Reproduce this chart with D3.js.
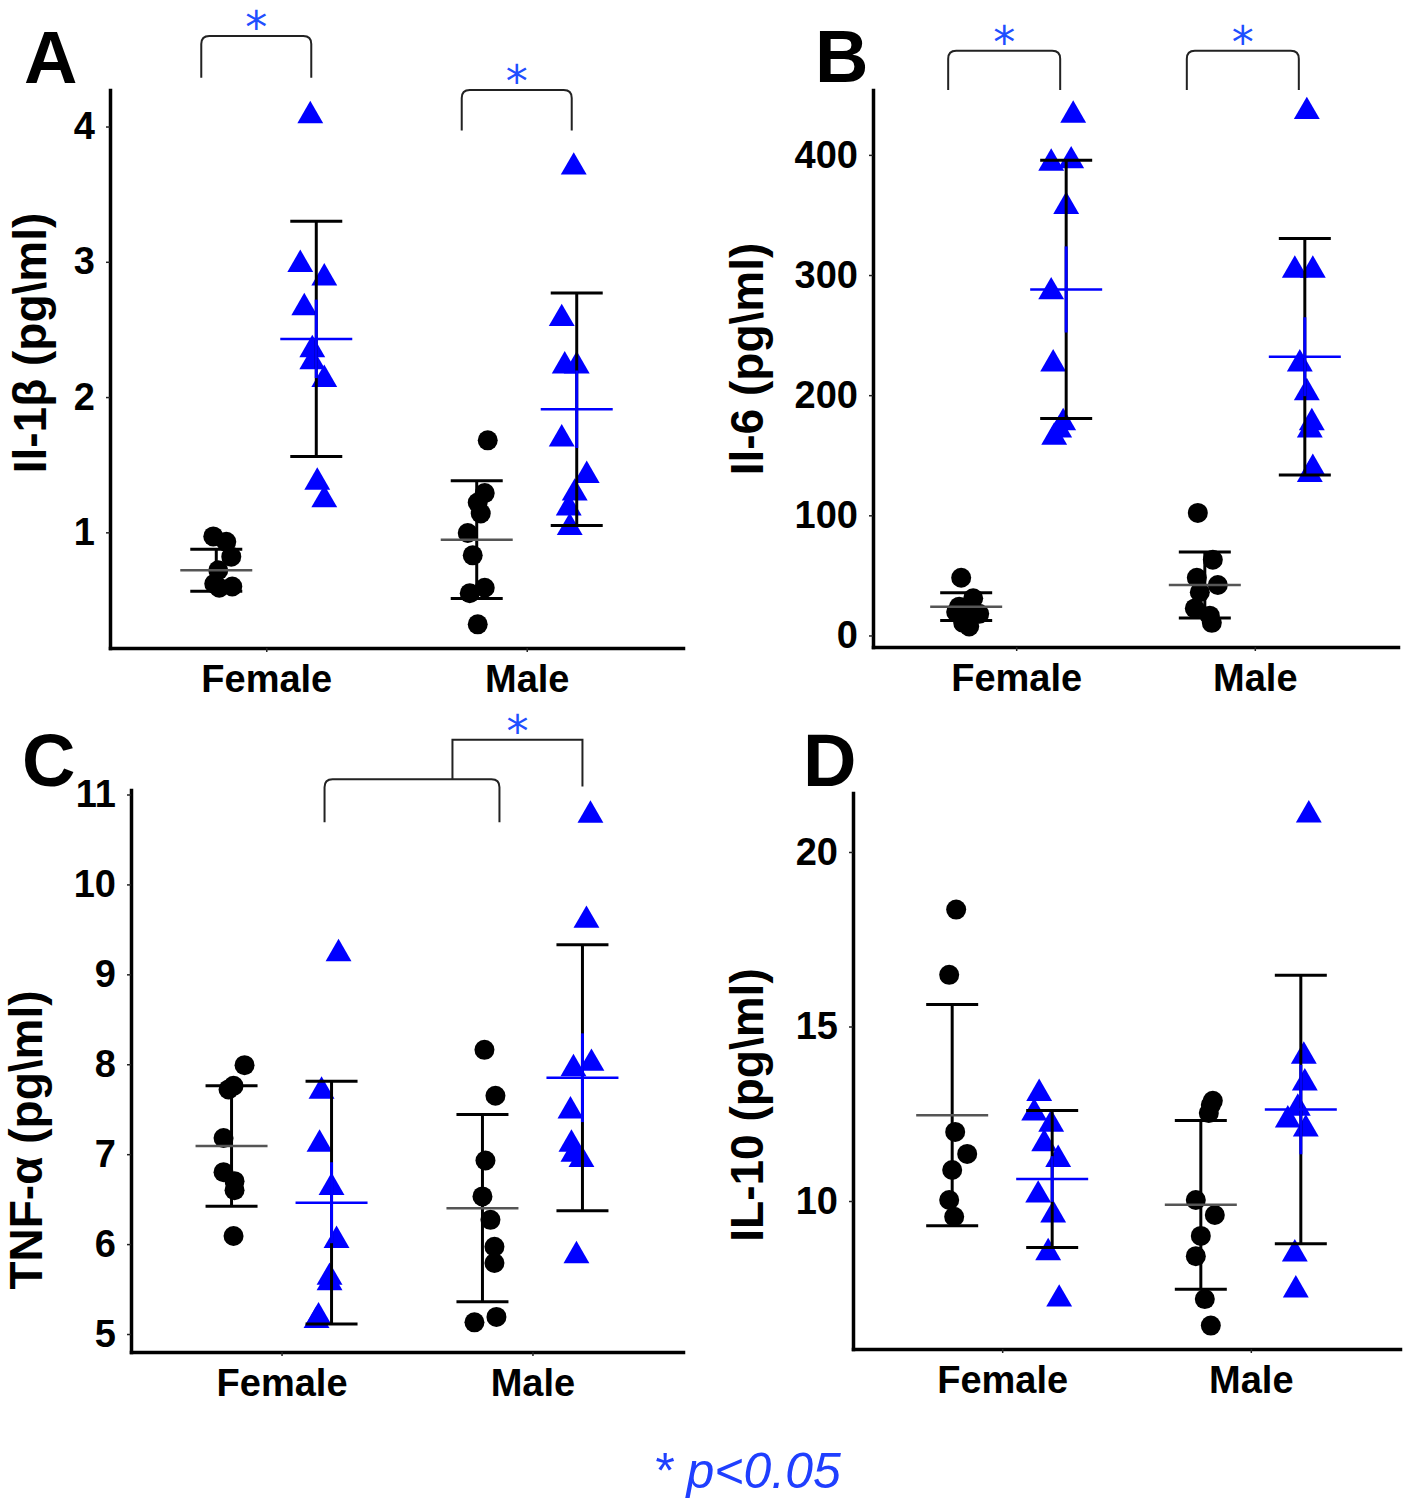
<!DOCTYPE html>
<html><head><meta charset="utf-8">
<script src="https://cdn.jsdelivr.net/npm/d3@7"></script>
<style>body{margin:0;background:#fff}</style>
</head><body>
<svg id="c" width="1405" height="1500"></svg>
<script>
// ---------- data ----------
const categories = ["Female", "Male"];
const groups = ["Control", "Treatment"];

// Panel A: Il-1β
const il1b_female_ctrl = [0.97, 0.93, 0.82, 0.72, 0.62, 0.60, 0.59];
const il1b_female_trt  = [4.08, 2.98, 2.88, 2.66, 2.35, 2.26, 2.13, 1.37, 1.24];
const il1b_male_ctrl   = [1.68, 1.29, 1.22, 1.14, 0.995, 0.83, 0.55, 0.59, 0.32];
const il1b_male_trt    = [3.70, 2.58, 2.23, 2.23, 1.69, 1.42, 1.29, 1.18, 1.035];
const il1b_mean = [0.72, 2.43, 0.946, 1.91];
const il1b_sd   = [0.155, 0.87, 0.435, 0.86];
const il1b_ticks = [1, 2, 3, 4];

// Panel B: Il-6
const il6_female_ctrl = [48, 31, 24, 19.5, 18, 16.5, 10.5, 7.5];
const il6_female_trt  = [433, 393, 395, 357, 286, 226, 177, 171, 165];
const il6_male_ctrl   = [102, 63, 48, 42, 36, 22.5, 16.5, 10.5];
const il6_male_trt    = [436, 304, 304, 226, 202, 177, 171, 139, 134];
const il6_mean = [24, 288, 42, 232];
const il6_sd   = [11.5, 107.5, 27.5, 98.5];
const il6_ticks = [0, 100, 200, 300, 400];

// Panel C: TNF-α
const tnf_female_ctrl = [7.99, 7.72, 7.76, 7.18, 6.8, 6.7, 6.6, 6.09];
const tnf_female_trt  = [9.23, 7.70, 7.11, 6.63, 6.04, 5.63, 5.57, 5.19, 5.15];
const tnf_male_ctrl   = [8.16, 7.65, 6.93, 6.53, 6.27, 5.97, 5.79, 5.13, 5.19];
const tnf_male_trt    = [10.77, 9.60, 7.95, 8.01, 7.48, 7.11, 7.0, 6.94, 5.87];
const tnf_mean = [7.09, 6.46, 6.40, 7.85];
const tnf_sd   = [0.67, 1.35, 1.04, 1.48];
const tnf_ticks = [5, 6, 7, 8, 9, 10, 11];

// Panel D: IL-10
const il10_female_ctrl = [18.35, 16.48, 11.98, 11.35, 10.89, 10.03, 9.55];
const il10_female_trt  = [13.08, 12.52, 12.2, 11.64, 11.19, 10.17, 9.6, 8.52, 7.19];
const il10_male_ctrl   = [12.87, 12.75, 12.52, 10.03, 9.6, 9.0, 8.42, 7.19, 6.43];
const il10_male_trt    = [21.06, 14.15, 13.38, 12.66, 12.32, 12.06, 8.48, 7.45];
const il10_mean = [12.46, 10.63, 9.89, 12.62];
const il10_sd   = [3.17, 1.965, 2.42, 3.845];
const il10_ticks = [10, 15, 20];

// horizontal jitter of the points
const il1b_jit = [[-3,10,15,2,-2,16,3],[-6,-16,8,-12,-4,-4,8,1,8],[11,8,1,4,-9,-4,-7,8,1],[-3,-15,-12,0,-15,10,-2,-8,-7]];
const il6_jit  = [[-5,7,-7,-10,13,2,-3,3],[7,-15,5,0,-15,-13,-3,-7,-12],[-7,8,-8,13,-5,-10,5,7],[2,-10,8,-5,2,7,5,8,5]];
const tnf_jit  = [[13,-3,2,-8,-8,3,3,2],[7,-10,-12,0,5,-2,-2,-13,-15],[2,13,3,0,8,12,12,-8,14],[8,4,-9,9,-12,-11,-9,-1,-6]];
const il10_jit = [[4,-3,3,15,0,-3,2],[-13,-18,-1,-8,6,-14,1,-4,7],[12,10,8,-5,14,0,-5,4,10],[8,3,4,-3,-13,5,-6,-5]];

// ---------- drawing ----------
const svg = d3.select("#c");
const FONT = "'Liberation Sans', Arial, Helvetica, sans-serif";
const BLUE = "#0000ff";
const STAR = "#1f4fff";

function panel(cfg) {
  const g = svg.append("g");
  const x = d3.scalePoint().domain(categories).range([cfg.left, cfg.right]).padding(0.6);
  const dodge = d3.scalePoint().domain(groups).range([-50, 50]);
  const jit = d3.scaleLinear().domain([-1, 1]).range([-1, 1]);
  const y = d3.scaleLinear().domain(cfg.domain).range([cfg.bottom, cfg.top]);

  const ya = g.append("g").attr("transform", `translate(${cfg.left},0)`)
    .call(d3.axisLeft(y).tickValues(cfg.ticks).tickFormat(d3.format("d")).tickSize(4).tickSizeOuter(0).tickPadding(11));
  const xa = g.append("g").attr("transform", `translate(0,${cfg.bottom})`)
    .call(d3.axisBottom(x).tickSize(4).tickSizeOuter(0).tickPadding(13));
  [ya, xa].forEach(a => {
    a.select(".domain").attr("stroke", "#000").attr("stroke-width", 3.5).attr("stroke-linecap", "square");
    a.selectAll(".tick line").attr("stroke", "#222").attr("stroke-width", 1.5);
    a.selectAll(".tick text").attr("fill", "#000").attr("font-family", FONT)
      .attr("font-weight", "bold").attr("font-size", 38);
  });

  g.append("text").attr("transform", `translate(${cfg.labelX},${cfg.labelY}) rotate(-90)`)
    .attr("text-anchor", "middle").attr("font-family", FONT).attr("font-weight", "bold")
    .attr("font-size", 46).attr("fill", "#000").text(cfg.label);
  g.append("text").attr("x", cfg.letterX).attr("y", cfg.letterY)
    .attr("font-family", FONT).attr("font-weight", "bold").attr("font-size", 74)
    .attr("fill", "#000").text(cfg.letter);

  const sets = [
    {cat: "Female", grp: "Control", vals: cfg.series[0], j: cfg.jit[0], i: 0},
    {cat: "Female", grp: "Treatment", vals: cfg.series[1], j: cfg.jit[1], i: 1},
    {cat: "Male", grp: "Control", vals: cfg.series[2], j: cfg.jit[2], i: 2},
    {cat: "Male", grp: "Treatment", vals: cfg.series[3], j: cfg.jit[3], i: 3},
  ];
  const gx = s => x(s.cat) + dodge(s.grp);

  sets.forEach(s => {
    const cx = gx(s);
    if (s.grp === "Control") {
      g.append("g").selectAll("circle").data(s.vals).join("circle")
        .attr("cx", (d, k) => cx + jit(s.j[k])).attr("cy", d => y(d))
        .attr("r", 10).attr("fill", "#000");
    } else {
      g.append("g").selectAll("path").data(s.vals).join("path")
        .attr("d", d3.symbol(d3.symbolTriangle, 290))
        .attr("transform", (d, k) => `translate(${cx + jit(s.j[k])},${y(d)})`)
        .attr("fill", BLUE);
    }
  });

  sets.forEach(s => {
    const cx = gx(s);
    const m = cfg.mean[s.i], sd = cfg.sd[s.i];
    const eb = g.append("g");
    eb.append("line").attr("x1", cx).attr("x2", cx).attr("y1", y(m - sd)).attr("y2", y(m + sd))
      .attr("stroke", "#000").attr("stroke-width", 3);
    [m - sd, m + sd].forEach(v => eb.append("line").attr("x1", cx - 26).attr("x2", cx + 26)
      .attr("y1", y(v)).attr("y2", y(v)).attr("stroke", "#000").attr("stroke-width", 3));
    const col = s.grp === "Control" ? "#555" : BLUE;
    if (s.grp === "Treatment") {
      eb.append("line").attr("x1", cx).attr("x2", cx).attr("y1", y(m - sd / 3)).attr("y2", y(m + sd / 3))
        .attr("stroke", BLUE).attr("stroke-width", 3);
    }
    eb.append("line").attr("x1", cx - 36).attr("x2", cx + 36).attr("y1", y(m)).attr("y2", y(m))
      .attr("stroke", col).attr("stroke-width", 2.5);
  });

  return {g, x, dodge, y};
}

function star(g, cx, yTop) {
  g.append("text").attr("x", cx).attr("y", yTop + 7).attr("text-anchor", "middle")
    .attr("font-family", "'DejaVu Sans', sans-serif").attr("font-size", 44)
    .attr("fill", STAR).text("*");
}
function bracket(g, x1, x2, yTop, yBot) {
  const r = 8;
  const p = `M${x1},${yBot} L${x1},${yTop + r} Q${x1},${yTop} ${x1 + r},${yTop} L${x2 - r},${yTop} Q${x2},${yTop} ${x2},${yTop + r} L${x2},${yBot}`;
  g.append("path").attr("d", p).attr("fill", "none").attr("stroke", "#222").attr("stroke-width", 2);
}

// Panel A
const A = panel({left: 110, right: 683, top: 90, bottom: 648, domain: [0.145, 4.27], ticks: il1b_ticks,
  series: [il1b_female_ctrl, il1b_female_trt, il1b_male_ctrl, il1b_male_trt], jit: il1b_jit,
  mean: il1b_mean, sd: il1b_sd, label: "Il-1β (pg\\ml)", labelX: 46, labelY: 343, letter: "A", letterX: 24, letterY: 83});
[["Female", 4.67, 4.36], ["Male", 4.27, 3.97]].forEach(([c, t, b]) => {
  const x1 = A.x(c) + A.dodge("Control") - 15, x2 = A.x(c) + A.dodge("Treatment") - 5;
  bracket(A.g, x1, x2, A.y(t), A.y(b));
  star(A.g, (x1 + x2) / 2, A.y(t));
});

// Panel B
const B = panel({left: 873, right: 1398, top: 90, bottom: 647, domain: [-9.6, 454], ticks: il6_ticks,
  series: [il6_female_ctrl, il6_female_trt, il6_male_ctrl, il6_male_trt], jit: il6_jit,
  mean: il6_mean, sd: il6_sd, label: "Il-6 (pg\\ml)", labelX: 763, labelY: 359, letter: "B", letterX: 815, letterY: 82});
["Female", "Male"].forEach(c => {
  const x1 = B.x(c) + B.dodge("Control") - 18, x2 = B.x(c) + B.dodge("Treatment") - 6;
  bracket(B.g, x1, x2, B.y(486.7), B.y(454));
  star(B.g, (x1 + x2) / 2, B.y(486.7));
});

// Panel C
const C = panel({left: 131, right: 683, top: 790, bottom: 1352, domain: [4.8, 11.05], ticks: tnf_ticks,
  series: [tnf_female_ctrl, tnf_female_trt, tnf_male_ctrl, tnf_male_trt], jit: tnf_jit,
  mean: tnf_mean, sd: tnf_sd, label: "TNF-α (pg\\ml)", labelX: 42, labelY: 1140, letter: "C", letterX: 22, letterY: 786});
{
  const x1 = C.x("Female") + C.dodge("Treatment") - 7;
  const x2 = C.x("Male") + C.dodge("Control") + 17;
  bracket(C.g, x1, x2, C.y(11.17), C.y(10.69));
  const sx = C.x("Male") + C.dodge("Control") - 30;
  const x3 = C.x("Male") + C.dodge("Treatment");
  C.g.append("path").attr("d", `M${sx},${C.y(11.17)} L${sx},${C.y(11.61)} L${x3},${C.y(11.61)} L${x3},${C.y(11.09)}`)
    .attr("fill", "none").attr("stroke", "#222").attr("stroke-width", 2);
  star(C.g, (sx + x3) / 2, C.y(11.61));
}

// Panel D
panel({left: 853, right: 1400, top: 793, bottom: 1349, domain: [5.76, 21.69], ticks: il10_ticks,
  series: [il10_female_ctrl, il10_female_trt, il10_male_ctrl, il10_male_trt], jit: il10_jit,
  mean: il10_mean, sd: il10_sd, label: "IL-10 (pg\\ml)", labelX: 763, labelY: 1105, letter: "D", letterX: 803, letterY: 786});

// footnote
svg.append("text").attr("x", 747).attr("y", 1488).attr("text-anchor", "middle")
  .attr("font-family", FONT).attr("font-style", "italic").attr("font-size", 50)
  .attr("fill", "#1f3fff").text("* p<0.05");
</script>
</body></html>
